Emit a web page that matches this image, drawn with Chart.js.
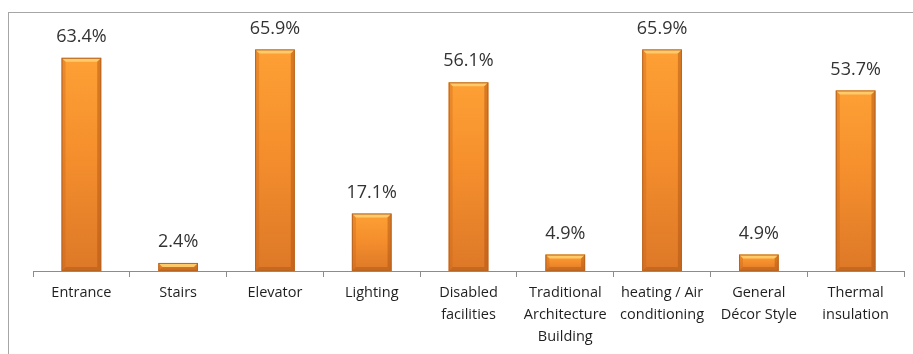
<!DOCTYPE html>
<html>
<head>
<meta charset="utf-8">
<script src="https://cdn.jsdelivr.net/npm/chart.js@4.4.0/dist/chart.umd.min.js"></script>
<style>
  html, body { margin: 0; padding: 0; background: #fff; overflow: hidden; }
  #wrap { position: relative; width: 913px; height: 354px; overflow: hidden; }
  #frame { position: absolute; left: 8px; top: 12px; width: 1000px; height: 1000px; border: 1px solid #a6a6a6; }
  #myChart { position: absolute; left: 0; top: 0; }
</style>
</head>
<body>
<div id="wrap">
  <div id="frame"></div>
  <canvas id="myChart" width="913" height="354"></canvas>
</div>
<script>
// categories (multi-line like the original axis)
const categories = [
    ["Entrance"],
    ["Stairs"],
    ["Elevator"],
    ["Lighting"],
    ["Disabled", "facilities"],
    ["Traditional", "Architecture", "Building"],
    ["heating / Air", "conditioning"],
    ["General", "Décor Style"],
    ["Thermal", "insulation"]
];

// percentages
const values = [63.4, 2.4, 65.9, 17.1, 56.1, 4.9, 65.9, 4.9, 53.7];

const valueLabels = values.map(v => v.toFixed(1) + "%");

// per bar gradient, light on top and darker near the base
function barFill(context) {
    const chart = context.chart;
    const yScale = chart.scales.y;
    if (!yScale || !chart.chartArea) return "#f28c2c";
    const top = yScale.getPixelForValue(context.raw);
    const bottom = yScale.getPixelForValue(0);
    if (!isFinite(top) || !isFinite(bottom) || top === bottom) return "#f28c2c";
    const g = chart.ctx.createLinearGradient(0, top, 0, bottom);
    g.addColorStop(0, "#fda035");
    g.addColorStop(0.45, "#f58f2d");
    g.addColorStop(1, "#dd7828");
    return g;
}

function poly(ctx, pts, fill) {
    ctx.beginPath();
    ctx.moveTo(pts[0][0], pts[0][1]);
    for (let k = 1; k < pts.length; k++) ctx.lineTo(pts[k][0], pts[k][1]);
    ctx.closePath();
    ctx.fillStyle = fill;
    ctx.fill();
}

// bevel edges on the bars + the percent text above every bar
const valueLabelPlugin = {
    id: "valueLabels",
    afterDatasetsDraw(chart) {
        const ctx = chart.ctx;
        const meta = chart.getDatasetMeta(0);
        ctx.save();
        meta.data.forEach((bar) => {
            const p = bar.getProps(["x", "y", "base", "width"], true);
            const l = p.x - p.width / 2, r = p.x + p.width / 2;
            const t = p.y, b = p.base;
            const d = Math.min(4, (b - t) / 2);
            poly(ctx, [[l, t], [r, t], [r - d, t + d], [l + d, t + d]], "rgba(255,214,120,0.8)");
            poly(ctx, [[l, t], [l + d, t + d], [l + d, b - d], [l, b]], "rgba(200,100,25,0.35)");
            poly(ctx, [[r, t], [r - d, t + d], [r - d, b - d], [r, b]], "rgba(170,80,15,0.45)");
            poly(ctx, [[l, b], [l + d, b - d], [r - d, b - d], [r, b]], "rgba(165,80,20,0.4)");
            ctx.strokeStyle = "#b9641f";
            ctx.lineWidth = 1;
            ctx.strokeRect(l + 0.5, t + 0.5, p.width - 1, b - t - 1);
        });
        ctx.font = "18px 'Open Sans'";
        ctx.fillStyle = "#333333";
        ctx.textAlign = "center";
        ctx.textBaseline = "middle";
        meta.data.forEach((bar, i) => {
            ctx.fillText(valueLabels[i], bar.x, bar.y - 21);
        });
        ctx.restore();
    }
};

const ctx = document.getElementById("myChart").getContext("2d");

const data = {
    labels: categories,
    datasets: [{
        data: values,
        backgroundColor: barFill,
        borderWidth: 0,
        barPercentage: 0.41,
        categoryPercentage: 1
    }]
};

const config = {
    type: "bar",
    data: data,
    plugins: [valueLabelPlugin],
    options: {
        responsive: false,
        animation: false,
        layout: { padding: { left: 33, right: 9, top: 2, bottom: 0 } },
        plugins: {
            legend: { display: false },
            tooltip: { enabled: false }
        },
        scales: {
            x: {
                afterFit: (s) => { s.height = 83; },
                grid: {
                    drawOnChartArea: false,
                    drawTicks: true,
                    tickLength: 6,
                    color: "#8c8c8c",
                    offset: true
                },
                border: { display: true, color: "#8c8c8c", width: 1 },
                ticks: {
                    color: "#1f1f1f",
                    padding: 5,
                    autoSkip: false,
                    maxRotation: 0,
                    font: { family: "'Open Sans'", size: 14.5, lineHeight: 1.52 }
                }
            },
            y: {
                display: false,
                min: 0,
                max: 80
            }
        }
    }
};

const myChart = new Chart(ctx, config);
</script>
</body>
</html>
